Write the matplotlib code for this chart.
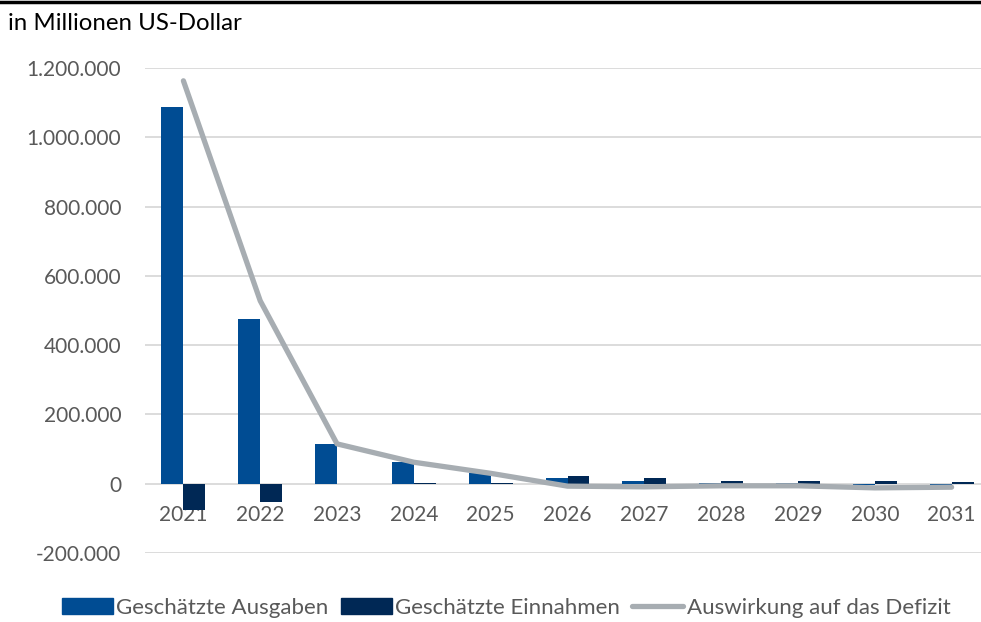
import matplotlib
matplotlib.use("Agg")
import matplotlib.pyplot as plt
import numpy as np
from matplotlib.lines import Line2D
from matplotlib.patches import Patch

plt.rcParams['font.family'] = ['Lato', 'DejaVu Sans']

# Values in millions of US dollars
years = ["2021", "2022", "2023", "2024", "2025", "2026", "2027", "2028", "2029", "2030", "2031"]
ausgaben = [1088000, 476000, 115000, 63000, 32000, 16000, 8000, 1000, 1000, -5000, -4000]
einnahmen = [-75000, -52000, 0, 1000, 2000, 23000, 17000, 7000, 7000, 7000, 6000]
defizit = [1163000, 528000, 115000, 62000, 30000, -7000, -9000, -6000, -6000, -12000, -10000]
yticks = [-200000, 0, 200000, 400000, 600000, 800000, 1000000, 1200000]

c_aus = "#004C93"
c_ein = "#002855"
c_def = "#A7ADB2"
c_txt = "#595959"
c_grid = "#D9D9D9"

W, H = 981, 622
fig = plt.figure(figsize=(W / 100, H / 100), dpi=100)
ax = fig.add_axes([145 / W, 1 - 553 / H, (990 - 145) / W, (553 - 68) / H])

x = np.arange(len(years))
bw = 0.286
ax.bar(x - bw / 2, ausgaben, width=bw, color=c_aus, zorder=2)
ax.bar(x + bw / 2, einnahmen, width=bw, color=c_ein, zorder=2)
ax.plot(x, defizit, color=c_def, lw=3.8, solid_capstyle='round',
        solid_joinstyle='round', zorder=3)

ax.set_xlim(-0.5, len(years) - 0.5)
ax.set_ylim(-200000, 1200000)
ax.set_yticks(yticks)
ax.set_yticklabels([f"{v:,}".replace(",", ".") for v in yticks])
ax.yaxis.grid(True, color=c_grid, lw=1.3, zorder=0)
ax.set_axisbelow(True)

ax.set_xticks(x)
ax.set_xticklabels(years)
ax.spines['bottom'].set_position(('data', 0))
for s in ax.spines.values():
    s.set_visible(False)
ax.tick_params(axis='both', length=0, colors=c_txt, labelsize=15)
ax.tick_params(axis='y', pad=17)
ax.tick_params(axis='x', pad=15)

fig.text(8 / W, 1 - 24 / H, "in Millionen US-Dollar", fontsize=17.3,
         color="black", va='center', ha='left')

# top rule
fig.add_artist(Line2D([0, 1], [1 - 1.5 / H, 1 - 1.5 / H], color='black', lw=2.5,
                      transform=fig.transFigure))

handles = [Patch(color=c_aus), Patch(color=c_ein),
           Line2D([0], [0], color=c_def, lw=3.8, solid_capstyle='round')]
labels = ["Geschätzte Ausgaben", "Geschätzte Einnahmen", "Auswirkung auf das Defizit"]
leg = fig.legend(handles, labels, loc='center', bbox_to_anchor=(506 / W, 1 - 608 / H),
                 ncol=3, frameon=False, fontsize=16, handlelength=2.3,
                 handleheight=0.7, handletextpad=0.15, columnspacing=0.55,
                 labelcolor=c_txt)

fig.savefig("out.png", dpi=100)
